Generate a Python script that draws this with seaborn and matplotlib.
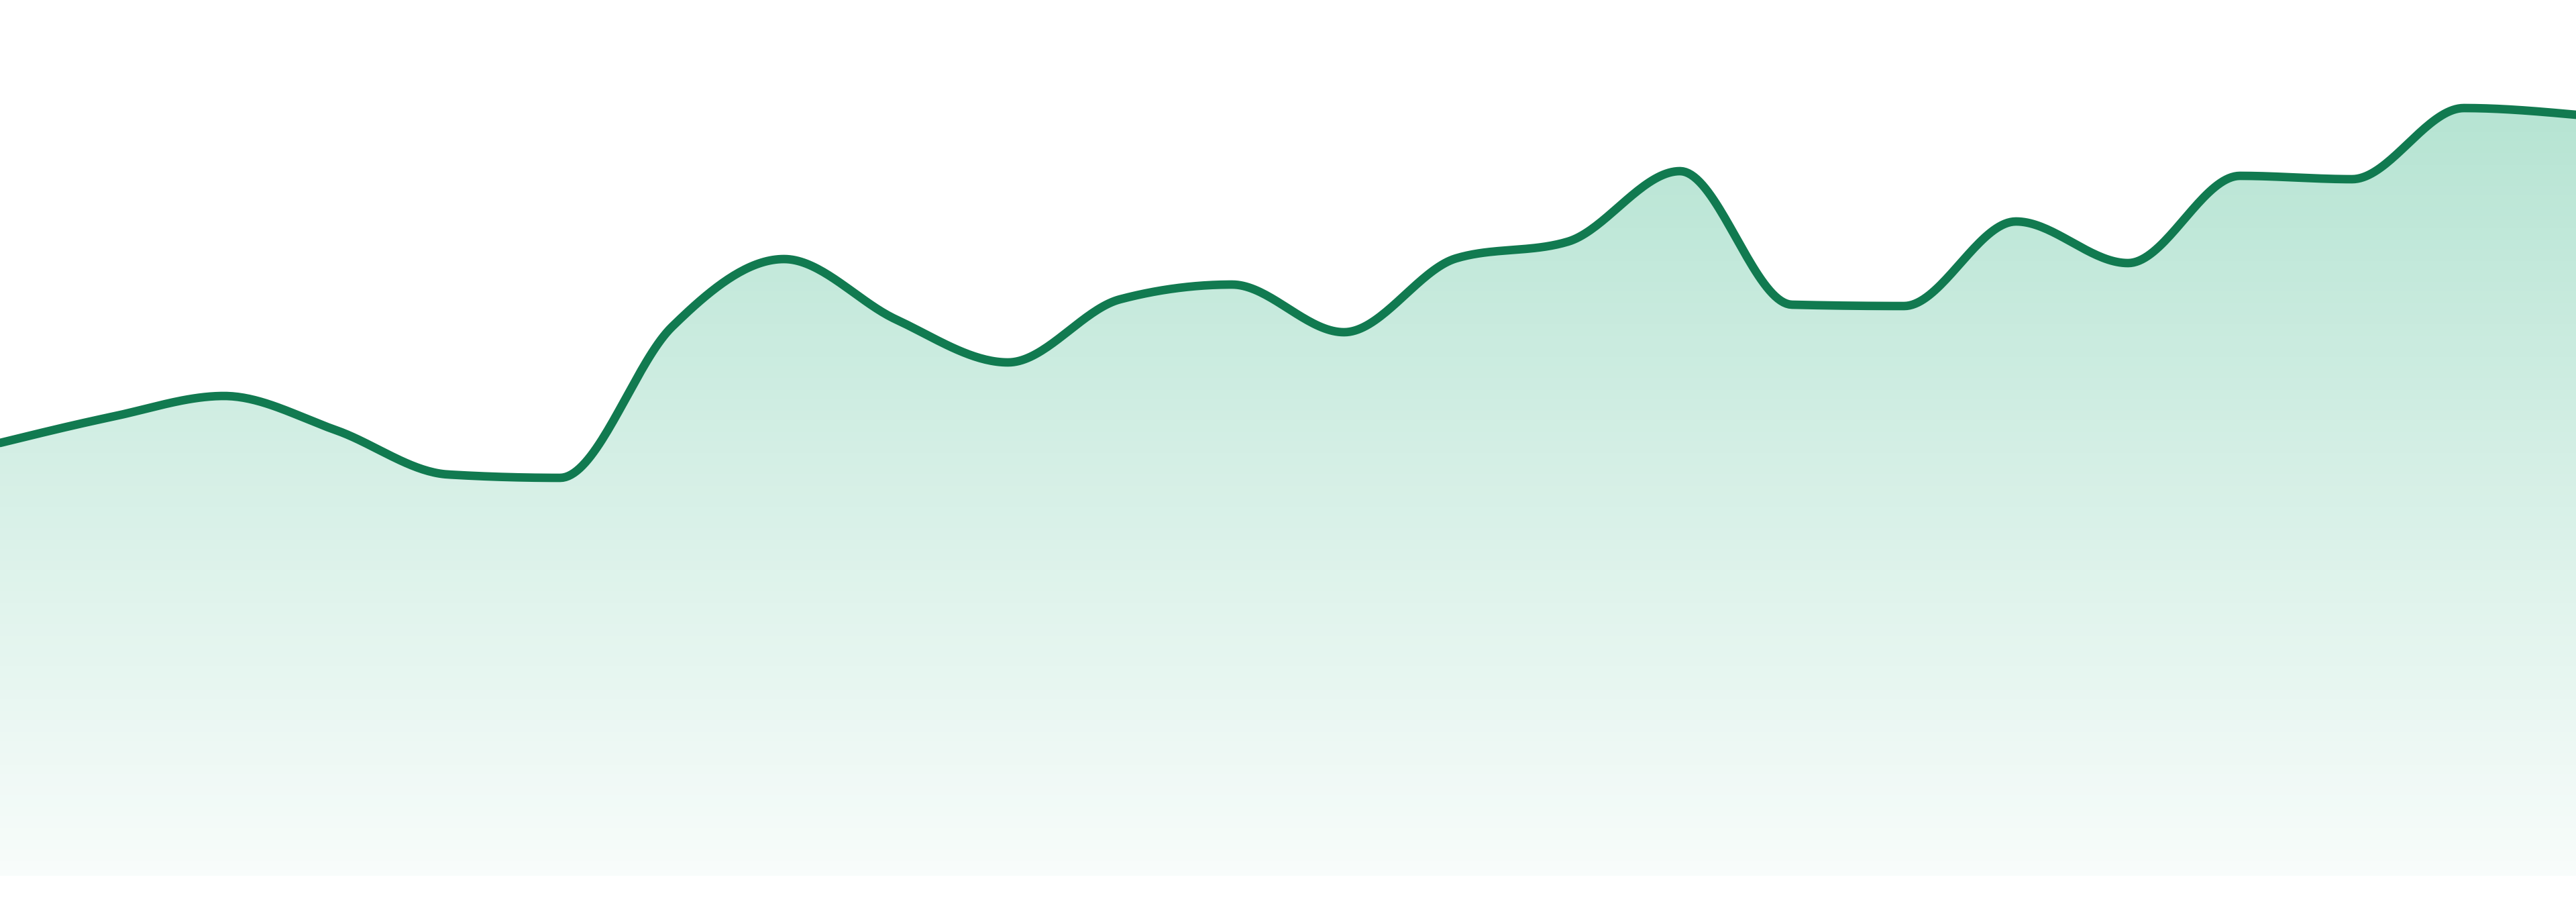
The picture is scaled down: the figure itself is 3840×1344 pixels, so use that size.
import numpy as np
import pandas as pd
import matplotlib
matplotlib.use('Agg')
import matplotlib.pyplot as plt
import seaborn as sns
from matplotlib.colors import to_rgb

# values, one per evenly spaced step
steps = list(range(24))
values = [64.5, 68.4, 71.5, 66.4, 59.8, 59.3, 81.8, 91.9, 82.9, 76.5, 85.9, 88.1,
          81.0, 92.0, 94.5, 105.0, 85.1, 84.9, 97.5, 91.3, 104.3, 103.8, 114.4, 113.4]

line_color = '#117a50'
fill_color = '#12a870'


def monotone_curve(x, y, n=40):
    # monotone cubic (Steffen) like d3.curveMonotoneX
    x = np.asarray(x, float)
    y = np.asarray(y, float)
    h = np.diff(x)
    s = np.diff(y) / h
    m = np.zeros_like(y)
    for i in range(1, len(y) - 1):
        p = (s[i - 1] * h[i] + s[i] * h[i - 1]) / (h[i - 1] + h[i])
        m[i] = (np.sign(s[i - 1]) + np.sign(s[i])) * min(abs(s[i - 1]), abs(s[i]), 0.5 * abs(p))
    m[0] = (3 * s[0] - m[1]) / 2
    m[-1] = (3 * s[-1] - m[-2]) / 2
    xs, ys = [], []
    for i in range(len(h)):
        t = np.linspace(0, 1, n, endpoint=False)
        h00 = 2 * t**3 - 3 * t**2 + 1
        h10 = t**3 - 2 * t**2 + t
        h01 = -2 * t**3 + 3 * t**2
        h11 = t**3 - t**2
        xs.append(x[i] + t * h[i])
        ys.append(h00 * y[i] + h10 * h[i] * m[i] + h01 * y[i + 1] + h11 * h[i] * m[i + 1])
    xs.append([x[-1]])
    ys.append([y[-1]])
    return np.concatenate(xs), np.concatenate(ys)


sx, sy = monotone_curve(steps, values)
df = pd.DataFrame({'step': sx, 'value': sy})

sns.set_style('white')
fig = plt.figure(figsize=(16, 5.6), dpi=240)
ax = fig.add_axes([0, 39 / 1344, 1, 1305 / 1344])
ax.set_xlim(0, 23)
ax.set_ylim(0, 130.5)
ax.axis('off')

# vertical gradient under the line
top = max(values)
r, g, b = to_rgb(fill_color)
grad = np.zeros((256, 1, 4))
grad[:, 0, 0] = r
grad[:, 0, 1] = g
grad[:, 0, 2] = b
grad[:, 0, 3] = np.linspace(0.31, 0.03, 256)
img = ax.imshow(grad, aspect='auto', extent=[0, 23, 0, top], origin='upper', zorder=1)
poly = ax.fill_between(df['step'], df['value'], 0, facecolor='none', edgecolor='none')
clip = poly.get_paths()[0]
img.set_clip_path(clip, transform=ax.transData)

sns.lineplot(data=df, x='step', y='value', ax=ax, color=line_color, linewidth=3.8,
             zorder=3, sort=False, estimator=None)
ax.set_xlim(0, 23)
ax.set_ylim(0, 130.5)

fig.savefig('out.png', dpi=240)
